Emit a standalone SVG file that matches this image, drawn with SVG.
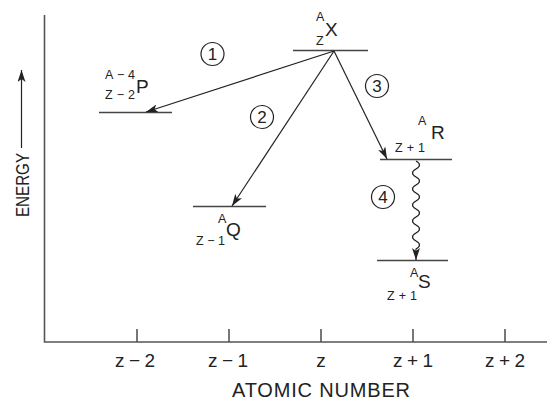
<svg xmlns="http://www.w3.org/2000/svg" width="547" height="401" viewBox="0 0 547 401">
<defs>
<marker id="ah" viewBox="0 0 12 8" refX="12" refY="4" markerWidth="12" markerHeight="8" markerUnits="userSpaceOnUse" orient="auto">
<path d="M0,0 L12,4 L0,8 L3,4 Z" fill="#222"/>
</marker>
</defs>
<style>
text{font-family:"Liberation Sans",Arial,sans-serif;fill:#222}
.ax{stroke:#555;stroke-width:1.6;fill:none}
.lv{stroke:#444;stroke-width:1.6}
.ar{stroke:#222;stroke-width:1.2;fill:none;marker-end:url(#ah)}
.big{font-size:19px}
.sm{font-size:12.5px}
.tk{font-size:19px;text-anchor:middle}
.num{font-size:17px;text-anchor:middle}
.cir{fill:none;stroke:#222;stroke-width:1.2}
</style>
<rect width="547" height="401" fill="#fff"/>
<g id="axes">
<path class="ax" d="M44.5,15 V342 H547"/>
<path class="ax" d="M137,329V342M229,329V342M321,329V342M413,329V342M505,329V342"/>
<text class="tk" x="135" y="367" textLength="40">z−2</text>
<text class="tk" x="228" y="367" textLength="40">z−1</text>
<text class="tk" x="321" y="367">z</text>
<text class="tk" x="413" y="367" textLength="40">z+1</text>
<text class="tk" x="505" y="367" textLength="40">z+2</text>
<text x="321" y="397" font-size="20" text-anchor="middle" textLength="178">ATOMIC NUMBER</text>
<text transform="translate(29,185) rotate(-90)" font-size="18" text-anchor="middle" textLength="64" lengthAdjust="spacingAndGlyphs">ENERGY</text>
<line x1="21.5" y1="148" x2="21.5" y2="70" class="ar"/>
</g>
<g id="X">
<line class="lv" x1="293" y1="50.5" x2="368" y2="50.5"/>
<text class="sm" x="316" y="21">A</text>
<text class="big" x="325" y="36">X</text>
<text class="sm" x="316" y="45">Z</text>
</g>
<g id="P">
<line class="lv" x1="99" y1="112.5" x2="172" y2="112.5"/>
<text class="sm" x="105" y="79" textLength="30">A−4</text>
<text class="sm" x="105" y="99" textLength="30">Z−2</text>
<text class="big" x="136" y="93">P</text>
</g>
<g id="Q">
<line class="lv" x1="193" y1="206.5" x2="266" y2="206.5"/>
<text class="sm" x="218" y="223">A</text>
<text class="big" x="226" y="236">Q</text>
<text class="sm" x="196" y="245" textLength="29">Z−1</text>
</g>
<g id="R">
<line class="lv" x1="380" y1="159.5" x2="452" y2="159.5"/>
<text class="sm" x="418" y="125">A</text>
<text class="big" x="431" y="139">R</text>
<text class="sm" x="395" y="152" textLength="30">Z+1</text>
</g>
<g id="S">
<line class="lv" x1="377" y1="260.5" x2="448" y2="260.5"/>
<text class="sm" x="410" y="277">A</text>
<text class="big" x="418" y="288">S</text>
<text class="sm" x="387" y="300" textLength="30">Z+1</text>
</g>
<g id="connectors">
<line class="ar" x1="334" y1="51" x2="146" y2="112"/>
<line class="ar" x1="334" y1="51" x2="232" y2="206"/>
<line class="ar" x1="334" y1="51" x2="387" y2="159"/>
<path class="ar" d="M416,161 q7,4 0,8 t0,8 t0,8 t0,8 t0,8 t0,8 t0,8 t0,8 t0,8 t0,8 t0,8 L416,260"/>
</g>
<g id="labels">
<circle class="cir" cx="212.5" cy="54" r="11.5"/><text class="num" x="212.5" y="60">1</text>
<circle class="cir" cx="262" cy="117" r="11.5"/><text class="num" x="262" y="123">2</text>
<circle class="cir" cx="377" cy="86" r="11.5"/><text class="num" x="377" y="92">3</text>
<circle class="cir" cx="383" cy="197" r="11.5"/><text class="num" x="383" y="203">4</text>
</g>
</svg>
